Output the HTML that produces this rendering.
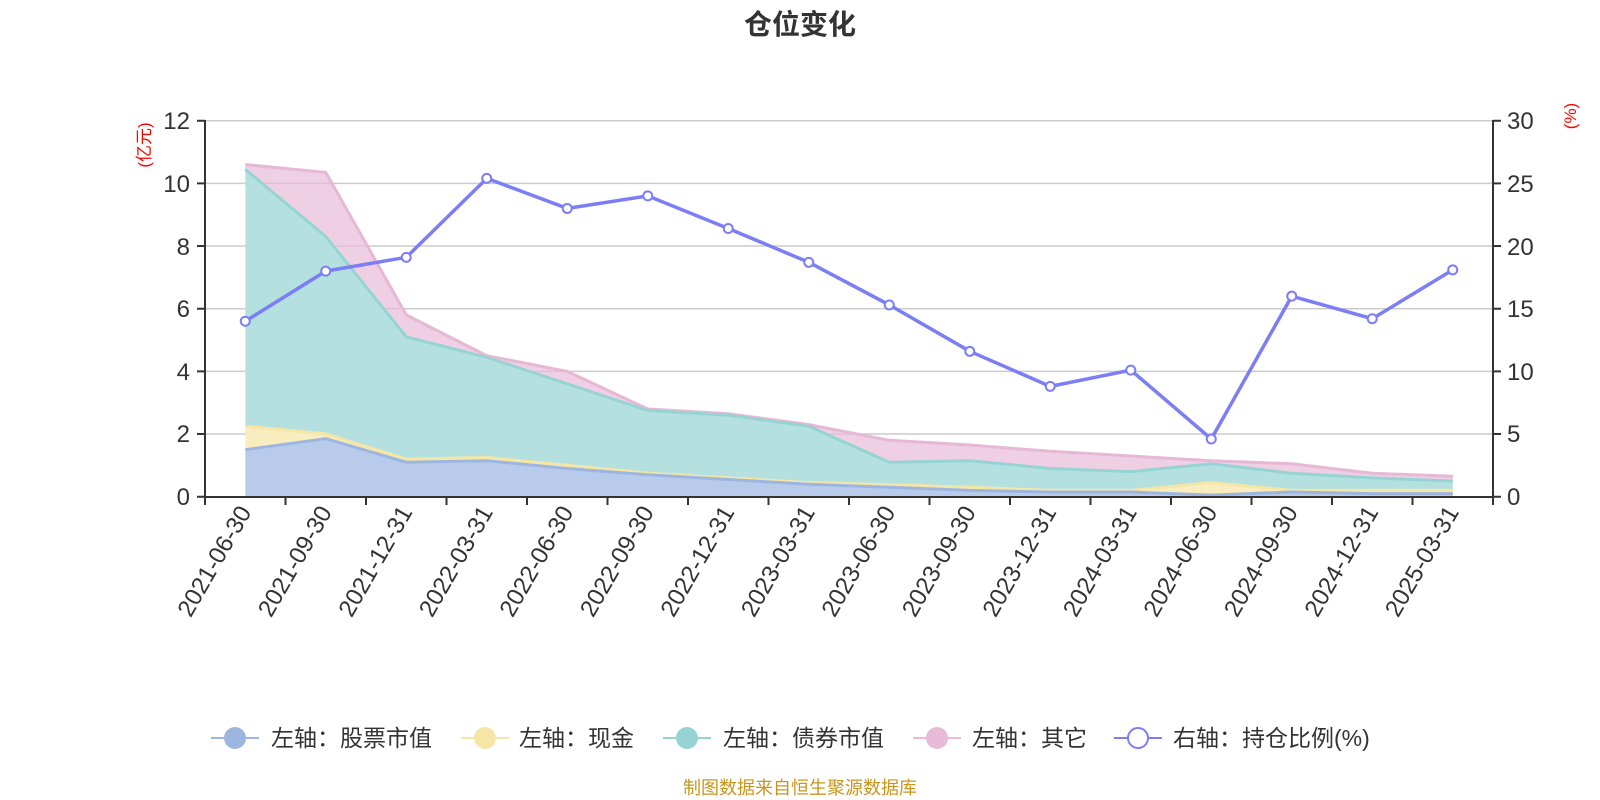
<!DOCTYPE html>
<html><head><meta charset="utf-8"><style>
body{margin:0;background:#fff;}
svg{display:block;font-family:"Liberation Sans","Noto Sans CJK SC",sans-serif;}
</style></head><body>
<svg id="s" width="1600" height="800" viewBox="0 0 1600 800" xmlns="http://www.w3.org/2000/svg">
<text x="800" y="34" text-anchor="middle" font-size="28" font-weight="bold" fill="#333">仓位变化</text>
<g stroke="#ccc" stroke-width="1.5">
<line x1="205" x2="1493" y1="120.7" y2="120.7"/><line x1="205" x2="1493" y1="183.4" y2="183.4"/>
<line x1="205" x2="1493" y1="246" y2="246"/><line x1="205" x2="1493" y1="308.7" y2="308.7"/>
<line x1="205" x2="1493" y1="371.4" y2="371.4"/><line x1="205" x2="1493" y1="434" y2="434"/>
</g>
<g id="areas"></g>
<g stroke="#333" stroke-width="2" fill="none">
<line x1="205" y1="120" x2="205" y2="497"/><line x1="1493" y1="120" x2="1493" y2="497"/>
<line x1="205" y1="497" x2="1493" y2="497"/>
<path d="M197 120.7H205M197 183.4H205M197 246H205M197 308.7H205M197 371.4H205M197 434H205M197 496.7H205"/>
<path d="M1493 120.7H1501M1493 183.4H1501M1493 246H1501M1493 308.7H1501M1493 371.4H1501M1493 434H1501M1493 496.7H1501"/>
<path d="M205 497V505M285.5 497V505M366 497V505M446.5 497V505M527 497V505M607.5 497V505M688 497V505M768.5 497V505M849 497V505M929.5 497V505M1010 497V505M1090.5 497V505M1171 497V505M1251.5 497V505M1332 497V505M1412.5 497V505M1493 497V505"/>
</g>
<g font-size="24" fill="#333" text-anchor="end">
<text x="190" y="129">12</text><text x="190" y="192">10</text><text x="190" y="255">8</text><text x="190" y="317">6</text><text x="190" y="380">4</text><text x="190" y="442">2</text><text x="190" y="505">0</text>
</g>
<g font-size="24" fill="#333" text-anchor="start">
<text x="1507" y="129">30</text><text x="1507" y="192">25</text><text x="1507" y="255">20</text><text x="1507" y="317">15</text><text x="1507" y="380">10</text><text x="1507" y="442">5</text><text x="1507" y="505">0</text>
</g>
<text transform="translate(150,145) rotate(-90)" text-anchor="middle" font-size="17" fill="#f00">(亿元)</text>
<text transform="translate(1576,116) rotate(-90)" text-anchor="middle" font-size="17" fill="#f00">(%)</text>
<g font-size="24" fill="#333" text-anchor="end">
<text transform="translate(252,512) rotate(-60)">2021-06-30</text>
<text transform="translate(332.5,512) rotate(-60)">2021-09-30</text>
<text transform="translate(413,512) rotate(-60)">2021-12-31</text>
<text transform="translate(493.5,512) rotate(-60)">2022-03-31</text>
<text transform="translate(574,512) rotate(-60)">2022-06-30</text>
<text transform="translate(654.5,512) rotate(-60)">2022-09-30</text>
<text transform="translate(735,512) rotate(-60)">2022-12-31</text>
<text transform="translate(815.5,512) rotate(-60)">2023-03-31</text>
<text transform="translate(896,512) rotate(-60)">2023-06-30</text>
<text transform="translate(976.5,512) rotate(-60)">2023-09-30</text>
<text transform="translate(1057,512) rotate(-60)">2023-12-31</text>
<text transform="translate(1137.5,512) rotate(-60)">2024-03-31</text>
<text transform="translate(1218,512) rotate(-60)">2024-06-30</text>
<text transform="translate(1298.5,512) rotate(-60)">2024-09-30</text>
<text transform="translate(1379,512) rotate(-60)">2024-12-31</text>
<text transform="translate(1459.5,512) rotate(-60)">2025-03-31</text>
</g>
<g id="line"></g>
<g font-size="23" fill="#333">
<line x1="211" x2="259" y1="738" y2="738" stroke="#9db6e0" stroke-width="2"/><circle cx="235" cy="738" r="11" fill="#9db6e0"/>
<text x="271" y="746">左轴：股票市值</text>
<line x1="461" x2="509" y1="738" y2="738" stroke="#f6e6a6" stroke-width="2"/><circle cx="485" cy="738" r="11" fill="#f6e6a6"/>
<text x="519" y="746">左轴：现金</text>
<line x1="663" x2="711" y1="738" y2="738" stroke="#96d4d4" stroke-width="2"/><circle cx="687" cy="738" r="11" fill="#96d4d4"/>
<text x="723" y="746">左轴：债券市值</text>
<line x1="913" x2="961" y1="738" y2="738" stroke="#e8bbd9" stroke-width="2"/><circle cx="937" cy="738" r="11" fill="#e8bbd9"/>
<text x="972" y="746">左轴：其它</text>
<line x1="1114" x2="1162" y1="738" y2="738" stroke="#7b7ef5" stroke-width="2"/><circle cx="1138" cy="738" r="10" fill="#fff" stroke="#7b7ef5" stroke-width="2"/>
<text x="1173" y="746">右轴：持仓比例(%)</text>
</g>
<text x="800" y="794" text-anchor="middle" font-size="18" fill="#c8961e">制图数据来自恒生聚源数据库</text>
</svg>
<script>
var cx=[];for(var i=0;i<16;i++)cx.push(245.25+80.5*i);
function Y(v){return 496.7-v*31.333;}
function R(v){return 496.7-v*12.533;}
var s=[1.5,1.85,1.1,1.15,0.9,0.7,0.55,0.4,0.3,0.2,0.15,0.15,0.05,0.15,0.1,0.1];
var c=[2.25,2.0,1.2,1.25,1.0,0.75,0.6,0.45,0.38,0.3,0.2,0.2,0.45,0.2,0.2,0.2];
var b=[10.45,8.3,5.1,4.45,3.6,2.75,2.6,2.25,1.1,1.15,0.9,0.8,1.05,0.75,0.6,0.5];
var o=[10.6,10.35,5.8,4.5,4.0,2.8,2.65,2.3,1.8,1.65,1.45,1.3,1.15,1.05,0.75,0.65];
var r=[14.0,18.0,19.1,25.4,23.0,24.0,21.4,18.7,15.3,11.6,8.8,10.1,4.6,16.0,14.2,18.1];
var zero=cx.map(function(){return 0;});
function pts(a,f){return a.map(function(v,i){return cx[i].toFixed(1)+','+f(v).toFixed(1);});}
var h='';
function area(top,bot,fill,stroke){
 var t=pts(top,Y),bb=pts(bot,Y).reverse();
 h+='<polygon points="'+t.concat(bb).join(' ')+'" fill="'+fill+'"/>';
 h+='<polyline points="'+t.join(' ')+'" fill="none" stroke="'+stroke+'" stroke-width="3"/>';
}
area(o,b,'rgba(232,187,217,0.7)','#e6b8d6');
area(b,c,'#b5e0e0','#96d4d4');
area(c,s,'#f9ecbf','#f6e6a6');
area(s,zero,'#b8cbea','#9db6e0');
document.getElementById('areas').innerHTML=h;
var l='<polyline points="'+pts(r,R).join(' ')+'" fill="none" stroke="#7b7ef5" stroke-width="3.5"/>';
r.forEach(function(v,i){l+='<circle cx="'+cx[i]+'" cy="'+R(v)+'" r="4.5" fill="#fff" stroke="#7b7ef5" stroke-width="2"/>';});
document.getElementById('line').innerHTML=l;
</script>
</body></html>
